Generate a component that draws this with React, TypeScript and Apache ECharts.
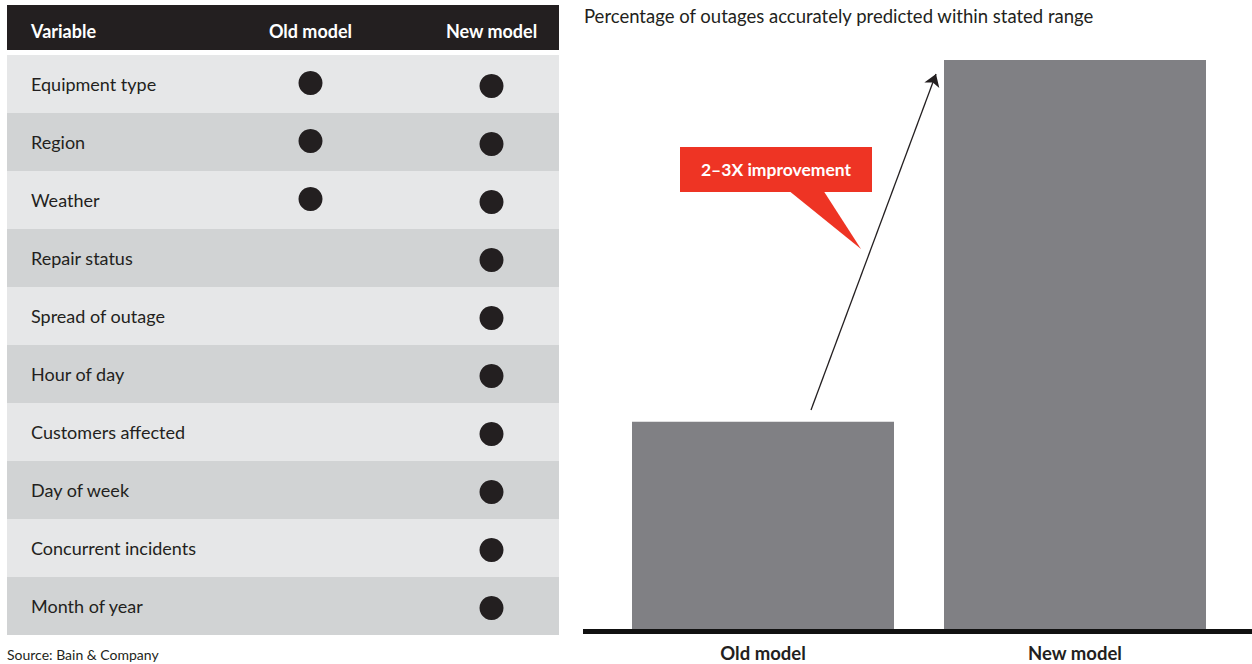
import React, { useEffect, useRef } from "react";
import * as echarts from "echarts";

const variables = [
  "Equipment type",
  "Region",
  "Weather",
  "Repair status",
  "Spread of outage",
  "Hour of day",
  "Customers affected",
  "Day of week",
  "Concurrent incidents",
  "Month of year",
];
const oldModelUses = [1, 1, 1, 0, 0, 0, 0, 0, 0, 0];
const newModelUses = [1, 1, 1, 1, 1, 1, 1, 1, 1, 1];
const modelNames = ["Old model", "New model"];
const accuracy = [22, 60];

const chartTitle = "Percentage of outages accurately predicted within stated range";
const calloutText = "2\u20133X improvement";
const sourceText = "Source: Bain & Company";

const FONT = "Lato, 'Noto Sans', sans-serif";
const DARK = "#231f20";
const RED = "#ee3424";
const BAR = "#808084";

export default function App() {
  const ref = useRef<HTMLDivElement>(null);
  useEffect(() => {
    if (!ref.current) return;
    const chart = echarts.init(ref.current, undefined, { renderer: "svg" });
    const oldDots = variables.filter((_, i) => oldModelUses[i]).map((v) => [modelNames[0], v]);
    const newDots = variables.filter((_, i) => newModelUses[i]).map((v) => [modelNames[1], v]);
    chart.setOption({
      animation: false,
      textStyle: { fontFamily: FONT },
      grid: [
        { left: 7, top: 55, width: 552, height: 580 },
        { left: 220, top: 55, width: 362, height: 580 },
        { left: 607, top: 60, width: 624, height: 571 },
      ],
      xAxis: [
        { gridIndex: 0, type: "category", data: ["bg"], show: false },
        {
          gridIndex: 1,
          type: "category",
          data: modelNames,
          position: "top",
          axisLine: { show: false },
          axisTick: { show: false },
          axisLabel: { color: "#ffffff", fontWeight: "bold", fontSize: 18, margin: 15, fontFamily: FONT },
        },
        {
          gridIndex: 2,
          type: "category",
          data: modelNames,
          axisLine: { show: false },
          axisTick: { show: false },
          axisLabel: { color: DARK, fontWeight: "bold", fontSize: 18.5, margin: 12, fontFamily: FONT },
        },
      ],
      yAxis: [
        {
          gridIndex: 0,
          type: "category",
          data: variables,
          inverse: true,
          axisLine: { show: false },
          axisTick: { show: false },
          axisLabel: { show: false },
          splitArea: { show: true, areaStyle: { color: ["#e6e7e8", "#d1d3d4"] } },
        },
        {
          gridIndex: 1,
          type: "category",
          data: variables,
          inverse: true,
          axisLine: { show: false },
          axisTick: { show: false },
          axisLabel: {
            color: DARK,
            fontSize: 18,
            align: "left",
            margin: 189,
            fontFamily: FONT,
            padding: [0, 0, 5, 0],
          },
        },
        { gridIndex: 2, type: "value", min: 0, max: 60, show: false, splitLine: { show: false } },
      ],
      graphic: [
        { type: "rect", shape: { x: 7, y: 5, width: 552, height: 45 }, style: { fill: DARK } },
        {
          type: "text",
          x: 31,
          y: 31,
          style: { text: "Variable", fill: "#ffffff", font: `bold 18px ${FONT}`, textVerticalAlign: "middle" },
        },
        {
          type: "text",
          x: 584,
          y: 16,
          style: { text: chartTitle, fill: DARK, font: `18.5px ${FONT}`, textVerticalAlign: "middle" },
        },
        { type: "rect", shape: { x: 583, y: 629, width: 669, height: 5 }, style: { fill: "#111111" }, z: 10 },
        { type: "rect", shape: { x: 680, y: 147, width: 192, height: 45 }, style: { fill: RED }, z: 10 },
        {
          type: "polygon",
          shape: { points: [[788, 190], [823, 190], [861, 249]] },
          style: { fill: RED },
          z: 10,
        },
        {
          type: "text",
          x: 776,
          y: 169,
          z: 11,
          style: {
            text: calloutText,
            fill: "#ffffff",
            font: `bold 17.5px ${FONT}`,
            textAlign: "center",
            textVerticalAlign: "middle",
          },
        },
        {
          type: "text",
          x: 7,
          y: 647,
          style: { text: sourceText, fill: DARK, font: `14px ${FONT}` },
        },
      ],
      series: [
        {
          type: "scatter",
          xAxisIndex: 1,
          yAxisIndex: 1,
          data: oldDots,
          symbolSize: 24,
          symbolOffset: [0, -1],
          itemStyle: { color: DARK, opacity: 1 },
          silent: true,
        },
        {
          type: "scatter",
          xAxisIndex: 1,
          yAxisIndex: 1,
          data: newDots,
          symbolSize: 24,
          symbolOffset: [0, 2],
          itemStyle: { color: DARK, opacity: 1 },
          silent: true,
        },
        {
          type: "bar",
          xAxisIndex: 2,
          yAxisIndex: 2,
          data: accuracy,
          barWidth: 262,
          itemStyle: { color: BAR },
          silent: true,
          markLine: {
            silent: true,
            symbol: ["none", "arrow"],
            symbolSize: 12,
            label: { show: false },
            lineStyle: { color: DARK, width: 1.3, type: "solid" },
            data: [[{ x: 811, y: 410 }, { x: 936, y: 74 }]],
          },
        },
      ],
    });
    return () => chart.dispose();
  }, []);
  return (
    <div
      ref={ref}
      style={{ position: "fixed", left: 0, top: 0, width: 1252, height: 664, background: "#ffffff" }}
    />
  );
}
